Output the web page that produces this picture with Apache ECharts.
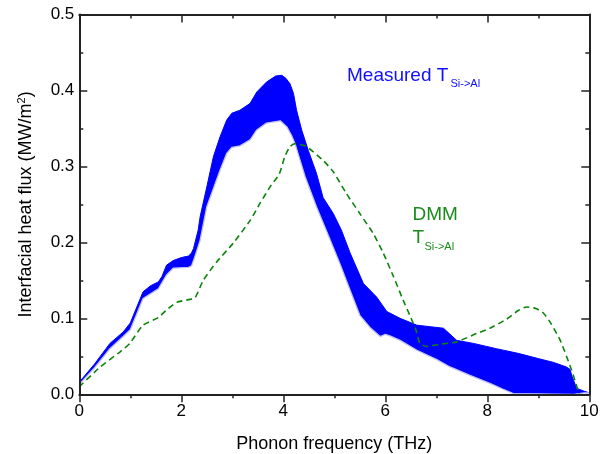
<!DOCTYPE html>
<html>
<head>
<meta charset="utf-8">
<script src="https://cdn.jsdelivr.net/npm/echarts@6/dist/echarts.min.js"></script>
<style>
html,body{margin:0;padding:0;background:#fff;}
#chart{width:605px;height:454px;}
</style>
</head>
<body>
<div id="chart"></div>
<script>
// Measured band: upper and lower edges [frequency THz, flux MW/m^2]
const measuredUpper = [
  [0,0.016],[0.3,0.040],[0.6,0.067],[0.86,0.082],[1.0,0.094],[1.25,0.135],[1.4,0.143],[1.55,0.148],
  [1.62,0.155],[1.71,0.170],[1.84,0.176],[2.0,0.180],[2.14,0.182],[2.2,0.186],[2.24,0.192],[2.33,0.216],
  [2.37,0.234],[2.5,0.273],[2.63,0.313],[2.76,0.339],[2.89,0.361],[2.99,0.370],[3.15,0.374],[3.35,0.383],
  [3.48,0.398],[3.67,0.411],[3.85,0.419],[3.97,0.420],[4.05,0.416],[4.13,0.409],[4.2,0.396],[4.26,0.374],
  [4.36,0.348],[4.49,0.321],[4.65,0.291],[4.78,0.259],[4.98,0.238],[5.14,0.216],[5.31,0.186],[5.57,0.146],
  [5.83,0.128],[6.03,0.109],[6.29,0.100],[6.62,0.091],[6.88,0.089],[7.14,0.087],[7.4,0.071],[7.73,0.067],
  [8.18,0.060],[8.6,0.054],[9.0,0.047],[9.3,0.042],[9.55,0.036],[9.62,0.033],[9.66,0.024],[9.75,0.008],
  [9.9,0.004],[10,0.002]
];
const measuredLower = [
  [0,0.013],[0.3,0.035],[0.6,0.060],[0.86,0.076],[1.0,0.085],[1.25,0.126],[1.55,0.139],[1.71,0.157],
  [1.84,0.166],[2.14,0.167],[2.2,0.169],[2.25,0.178],[2.37,0.203],[2.5,0.247],[2.63,0.271],[2.76,0.295],
  [2.89,0.317],[2.99,0.325],[3.15,0.327],[3.35,0.335],[3.48,0.348],[3.67,0.357],[3.94,0.360],[4.07,0.352],
  [4.16,0.341],[4.23,0.330],[4.33,0.308],[4.43,0.286],[4.65,0.247],[4.92,0.203],[5.11,0.172],[5.31,0.137],
  [5.5,0.104],[5.7,0.088],[5.9,0.076],[6.0,0.079],[6.09,0.077],[6.29,0.071],[6.62,0.058],[7.0,0.046],
  [7.27,0.036],[7.66,0.025],[8.05,0.0145],[8.3,0.007],[8.51,0.001],[9.7,0.0],[9.9,0.002],[10,0.002]
];
// DMM prediction
const dmm = [
  [0,0.010],[0.41,0.036],[0.8,0.056],[0.99,0.067],[1.25,0.091],[1.55,0.101],[1.71,0.111],[1.91,0.121],
  [2.17,0.125],[2.27,0.127],[2.43,0.150],[2.69,0.174],[3.02,0.199],[3.35,0.229],[3.54,0.251],[3.74,0.273],
  [3.92,0.290],[4.03,0.313],[4.13,0.326],[4.23,0.330],[4.43,0.327],[4.59,0.319],[4.78,0.308],[4.98,0.293],
  [5.24,0.264],[5.5,0.238],[5.76,0.212],[5.96,0.186],[6.16,0.155],[6.35,0.124],[6.48,0.104],[6.6,0.085],
  [6.68,0.067],[6.81,0.063],[7.1,0.066],[7.4,0.069],[7.79,0.080],[8.05,0.087],[8.38,0.099],[8.6,0.110],
  [8.77,0.115],[8.95,0.113],[9.1,0.107],[9.25,0.093],[9.43,0.071],[9.62,0.038],[9.72,0.018],[9.8,0.0]
];
const xTicks = [0,2,4,6,8,10];
const yTicks = ['0.0','0.1','0.2','0.3','0.4','0.5'];

const chart = echarts.init(document.getElementById('chart'), null, {renderer:'canvas'});
const FONT = 'Arial, "Liberation Sans", sans-serif';
const axisLine = {show:true, onZero:false, lineStyle:{color:'#222', width:2}};
const baseX = {type:'value', min:0, max:10, interval:2, z:10, axisLine, splitLine:{show:false}};
const baseY = {type:'value', min:0, max:0.5, interval:0.1, z:10, axisLine, splitLine:{show:false}};
chart.setOption({
  animation:false,
  backgroundColor:'#fff',
  grid:{left:79.3, right:15.7, top:14.5, bottom:59.7, containLabel:false, outerBoundsMode:'none'},
  xAxis:[
    Object.assign({}, baseX, {
      position:'bottom',
      name:'Phonon frequency (THz)', nameLocation:'middle', nameGap:41,
      nameTextStyle:{fontFamily:FONT, fontSize:18, color:'#000'},
      axisTick:{show:true, inside:false, length:8, lineStyle:{color:'#222', width:1.5}},
      minorTick:{show:true, splitNumber:2, length:4, lineStyle:{color:'#222', width:1.5}},
      axisLabel:{fontFamily:FONT, fontSize:17, color:'#000', margin:9,
        formatter:v=>xTicks.indexOf(v)>=0 ? String(v) : ''}
    }),
    Object.assign({}, baseX, {
      position:'top',
      axisTick:{show:true, inside:true, length:8, lineStyle:{color:'#222', width:1.5}},
      minorTick:{show:true, splitNumber:2, length:4, lineStyle:{color:'#222', width:1.5}},
      axisLabel:{show:false}
    })
  ],
  yAxis:[
    Object.assign({}, baseY, {
      position:'left',
      name:'Interfacial heat flux (MW/m{sup|2})', nameLocation:'middle', nameGap:44,
      nameTextStyle:{fontFamily:FONT, fontSize:18, color:'#000',
        rich:{sup:{fontFamily:FONT, fontSize:11, color:'#000', verticalAlign:'top', padding:[0,0,8,0]}}},
      axisTick:{show:true, inside:true, length:8, lineStyle:{color:'#222', width:1.5}},
      minorTick:{show:true, splitNumber:2, length:4, lineStyle:{color:'#222', width:1.5}},
      axisLabel:{fontFamily:FONT, fontSize:17, color:'#000', margin:5,
        formatter:v=>yTicks[Math.round(v*10)]}
    }),
    Object.assign({}, baseY, {
      position:'right',
      axisTick:{show:true, inside:true, length:8, lineStyle:{color:'#222', width:1.5}},
      minorTick:{show:true, splitNumber:2, length:4, lineStyle:{color:'#222', width:1.5}},
      axisLabel:{show:false}
    })
  ],
  series:[
    {type:'line', name:'upper', data:measuredUpper, xAxisIndex:0, yAxisIndex:0, z:2,
      showSymbol:false, symbol:'none', lineStyle:{color:'#0000ff', width:1},
      areaStyle:{color:'#0000ff', opacity:1}},
    {type:'line', name:'lower', data:measuredLower, xAxisIndex:0, yAxisIndex:0, z:3,
      showSymbol:false, symbol:'none', lineStyle:{color:'#c0c0ff', width:1.3},
      areaStyle:{color:'#ffffff', opacity:1}},
    {type:'line', name:'DMM', data:dmm, xAxisIndex:0, yAxisIndex:0, z:4,
      showSymbol:false, symbol:'none', smooth:0.2,
      lineStyle:{color:'#0a850a', width:1.6, type:[6,4]}}
  ],
  graphic:[
    {type:'text', left:347, top:66, z:20, style:{text:'Measured T', fontFamily:FONT, fontSize:19, fill:'#1010ff'}},
    {type:'text', left:450.5, top:78.5, z:20, style:{text:'Si->Al', fontFamily:FONT, fontSize:11, fill:'#1010ff'}},
    {type:'text', left:412.5, top:205, z:20, style:{text:'DMM', fontFamily:FONT, fontSize:19, fill:'#1a8a1a'}},
    {type:'text', left:412.5, top:228.5, z:20, style:{text:'T', fontFamily:FONT, fontSize:19, fill:'#1a8a1a'}},
    {type:'text', left:424.5, top:241.5, z:20, style:{text:'Si->Al', fontFamily:FONT, fontSize:11, fill:'#1a8a1a'}}
  ]
});
</script>
</body>
</html>
